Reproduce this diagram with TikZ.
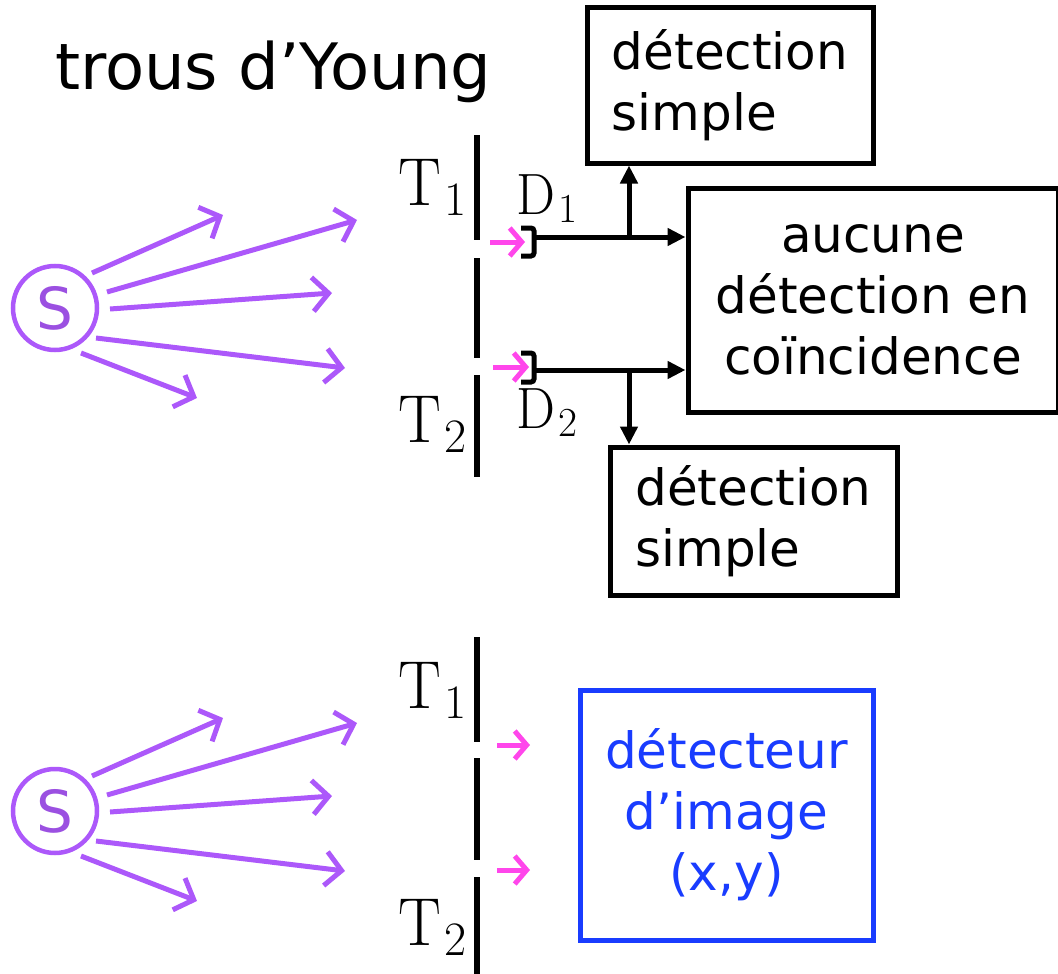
\documentclass[tikz,border=0pt]{standalone}
\usepackage{fontspec}
\setsansfont{DejaVu Sans}
\usetikzlibrary{arrows.meta}
\definecolor{purp}{RGB}{172,88,250}
\definecolor{sdark}{RGB}{155,80,225}
\definecolor{pinkc}{RGB}{255,70,235}
\definecolor{bluec}{RGB}{25,60,255}
\tikzset{
  ray/.style={purp,line width=5pt,-{Straight Barb[length=16pt,width=34pt,line width=5pt]}},
  pink/.style={pinkc,line width=5pt,-{Straight Barb[length=12pt,width=28pt,line width=5pt]}},
  wall/.style={line width=5.5pt},
  blk/.style={line width=5pt,-{Triangle[length=18pt,width=17pt]}},
  brk/.style={line width=5pt,rounded corners=3pt},
  boxs/.style={draw,line width=5pt,inner sep=0pt,font=\sffamily\fontsize{50}{61}\selectfont},
  lbl/.style={font=\rmfamily\fontsize{64}{66}\selectfont,inner sep=0pt,anchor=base west},
  dlbl/.style={font=\rmfamily\fontsize{55}{58}\selectfont,inner sep=0pt,anchor=base west},
}
\newcommand{\subidx}[2]{\scalebox{1}[1.06]{#1}\kern0.06em\raisebox{-0.16em}{\fontsize{0.75em}{0.75em}\selectfont #2}}
\begin{document}
\begin{tikzpicture}[x=1pt,y=-1pt]
\useasboundingbox (0,0) rectangle (1058,974);
\node[font=\sffamily\fontsize{64}{66}\selectfont,anchor=base west,inner sep=0pt] (title) at (55,89) {trous d’Young};
\foreach \i/\dy in {1/0,2/503}{
  \begin{scope}[shift={(0,\dy)}]
    \node[draw=purp,line width=4.5pt,circle,minimum size=84pt,inner sep=0pt,text=sdark,font=\sffamily\fontsize{58}{60}\selectfont] (S\i) at (55,308) {S};
    \coordinate (a\i s1) at (92,273);  \coordinate (a\i e1) at (223,215);
    \coordinate (a\i s2) at (107,292); \coordinate (a\i e2) at (357,220);
    \coordinate (a\i s3) at (110,309); \coordinate (a\i e3) at (332,293);
    \coordinate (a\i s4) at (96,338);  \coordinate (a\i e4) at (345,368);
    \coordinate (a\i s5) at (81,353);  \coordinate (a\i e5) at (197,398);
    \foreach \k in {1,...,5}{\draw[ray] (a\i s\k) -- (a\i e\k);}
  \end{scope}
}
% walls
\draw[wall] (477,135) -- (477,240);
\draw[wall] (477,258) -- (477,358);
\draw[wall] (477,375) -- (477,477);
\draw[wall] (477,637) -- (477,742);
\draw[wall] (477,758) -- (477,860);
\draw[wall] (477,877) -- (477,974);
% labels
\node[lbl] (t1) at (398,205) {\subidx{T}{1}};
\node[lbl] (t2) at (398,442) {\subidx{T}{2}};
\node[lbl] (t3) at (398,708) {\subidx{T}{1}};
\node[lbl] (t4) at (398,945) {\subidx{T}{2}};
\node[dlbl] (dl1) at (516,214) {\subidx{D}{1}};
\node[dlbl] (dl2) at (516,428) {\subidx{D}{2}};
% pink arrows
\coordinate (p1s) at (490,242); \coordinate (p1e) at (525,242);
\coordinate (p2s) at (493,367); \coordinate (p2e) at (529,367);
\coordinate (p3s) at (497,745); \coordinate (p3e) at (530,745);
\coordinate (p4s) at (497,870); \coordinate (p4e) at (530,870);
\draw[pink] (p1s) -- (p1e);
\draw[pink] (p2s) -- (p2e);
\draw[pink] (p3s) -- (p3e);
\draw[pink] (p4s) -- (p4e);
% detectors
\draw[brk] (521,228) -- (534,228) -- (534,256) -- (521,256);
\draw[brk] (521,353) -- (534,353) -- (534,382) -- (521,382);
% boxes
\node[boxs,minimum width=286pt,minimum height=155pt,align=left] (top) at (730,85.5) {détection\\simple};
\node[boxs,minimum width=370pt,minimum height=224pt,align=center] (auc) at (873,300) {aucune\\détection en\\coïncidence};
\node[boxs,minimum width=287pt,minimum height=148pt,align=left] (bot) at (753.5,521) {détection\\simple};
\node[boxs,draw=bluec,text=bluec,minimum width=293pt,minimum height=250pt,align=center] (img) at (726.5,815) {détecteur\\d’image\\(x,y)};
% connectors
\coordinate (d1) at (534,237);
\coordinate (d2) at (534,370);
\coordinate (j1) at (629,237);
\coordinate (j2) at (629,370);
\draw[blk] (d1) -- (auc.west |- d1);
\draw[blk] (d2) -- (auc.west |- d2);
\draw[blk] (j1) -- (j1 |- top.south);
\draw[blk] (j2) -- (j2 |- bot.north);
\end{tikzpicture}
\end{document}
